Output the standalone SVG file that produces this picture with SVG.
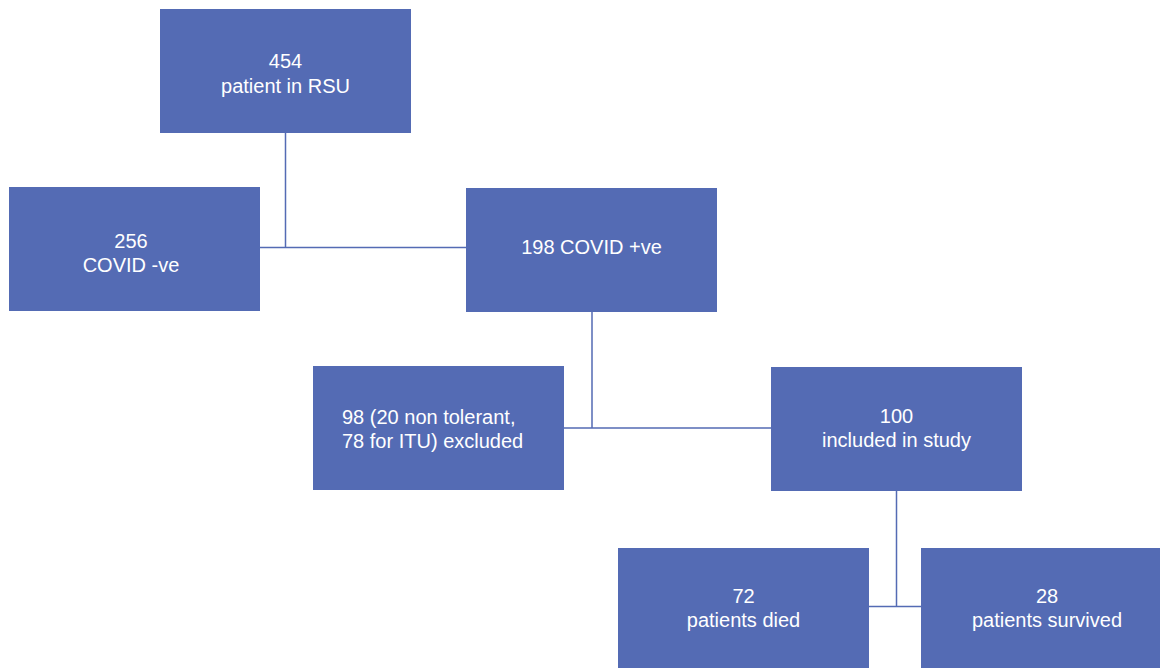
<svg xmlns="http://www.w3.org/2000/svg" width="1160" height="668" viewBox="0 0 1160 668">
<style>
.box{fill:#546BB4}
.t{font-family:"Liberation Sans",Arial,sans-serif;font-size:20px;fill:#ffffff;text-anchor:middle}
.l{font-family:"Liberation Sans",Arial,sans-serif;font-size:20px;fill:#ffffff;text-anchor:start}
.c{stroke:#546BB4;stroke-width:1.5;fill:none}
</style>
<rect width="1160" height="668" fill="#ffffff"/>
<g id="connectors">
<path class="c" d="M285.5,132 V247.5 M259,247.5 H466"/>
<path class="c" d="M592,311 V428 M563,428 H771"/>
<path class="c" d="M896.5,490 V606.5 M868,606.5 H921"/>
</g>
<g id="n454"><rect class="box" x="160" y="9" width="251" height="124"/>
<text class="t" x="285.5" y="68">454</text><text class="t" x="285.5" y="93">patient in RSU</text></g>
<g id="n256"><rect class="box" x="9" y="187" width="251" height="124"/>
<text class="t" x="131" y="248">256</text><text class="t" x="131" y="272">COVID -ve</text></g>
<g id="n198"><rect class="box" x="466" y="188" width="251" height="124"/>
<text class="t" x="591.5" y="254">198 COVID +ve</text></g>
<g id="n98"><rect class="box" x="313" y="366" width="251" height="124"/>
<text class="l" x="342" y="424">98 (20 non tolerant,</text><text class="l" x="342" y="448">78 for ITU) excluded</text></g>
<g id="n100"><rect class="box" x="771" y="367" width="251" height="124"/>
<text class="t" x="896.5" y="423">100</text><text class="t" x="896.5" y="447">included in study</text></g>
<g id="n72"><rect class="box" x="618" y="548" width="251" height="120"/>
<text class="t" x="743.5" y="603">72</text><text class="t" x="743.5" y="627">patients died</text></g>
<g id="n28"><rect class="box" x="921" y="548" width="239" height="120"/>
<text class="t" x="1047" y="603">28</text><text class="t" x="1047" y="627">patients survived</text></g>
</svg>
